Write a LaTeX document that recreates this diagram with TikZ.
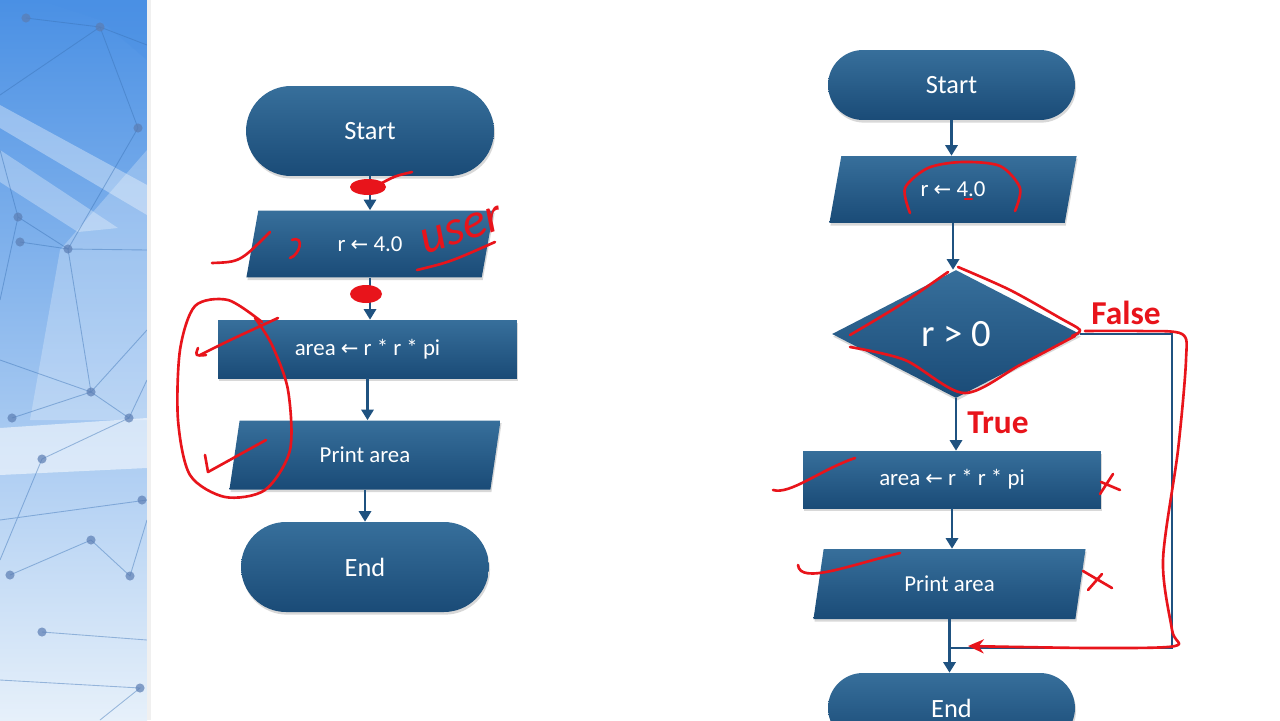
\documentclass[tikz,border=0pt]{standalone}
\usepackage{fontspec}
\setmainfont{Carlito}
\newfontfamily\arrowfont{DejaVu Sans}
\newcommand{\getsarrow}{{\arrowfont\fontsize{12}{14}\selectfont ←}}
\usepackage{tikz}
\usetikzlibrary{shapes.geometric,shapes.misc,arrows.meta,shadows}
\definecolor{boxtop}{HTML}{376F9B}
\definecolor{boxbot}{HTML}{1A4B77}
\definecolor{flowblue}{HTML}{1F5280}
\definecolor{inkred}{HTML}{E8141B}
\definecolor{stripdeep}{HTML}{4A90E4}
\definecolor{stripmid}{HTML}{A6CBF1}
\definecolor{stripfade}{HTML}{E6F0FA}
\definecolor{dotc}{HTML}{5B7DB3}

\begin{document}
\begin{tikzpicture}[x=0.02cm,y=-0.02cm,
  box/.style={top color=boxtop, bottom color=boxbot, text=white, inner sep=0pt,
    font=\fontsize{13}{15}\selectfont,
    drop shadow={opacity=0.3,shadow xshift=0.6pt,shadow yshift=-1.5pt}},
  term/.style={box, rounded rectangle, minimum width=4.96cm, minimum height=1.8cm,
    font=\fontsize{15}{17}\selectfont},
  io/.style={box, trapezium, trapezium stretches=true, trapezium left angle=77,
    trapezium right angle=103, minimum width=4.96cm, minimum height=1.34cm},
  proc/.style={box, rectangle, minimum width=5.98cm, minimum height=1.16cm},
  test/.style={box, diamond, minimum width=4.96cm, minimum height=2.56cm,
    font=\fontsize{22}{24}\selectfont},
  flow/.style={draw=flowblue, line width=1.3pt, -{Triangle[width=7pt,length=6pt]}},
  wire/.style={draw=flowblue, line width=1.3pt},
  lbl/.style={text=inkred, font=\fontsize{19}{22}\selectfont\bfseries},
  ink/.style={draw=inkred, line width=1.5pt, line cap=round, line join=round},
  stripline/.style={draw=stripdeep!80!black, opacity=0.45, line width=0.5pt}]

\clip (0,0) rectangle (1280,720);
\fill [white] (0,0) rectangle (1280,720);

\shade [top color=stripdeep, middle color=stripmid, bottom color=stripfade] (0,0) rectangle (147,720);
\fill [white, opacity=0.35] (0,105) -- (147,185) -- (147,215) -- (0,128) -- cycle;
\fill [white, opacity=0.3] (0,150) -- (118,228) -- (78,232) -- (0,182) -- cycle;
\fill [white, opacity=0.25] (147,150) -- (60,250) -- (30,420) -- (147,420) -- cycle;
\fill [white, opacity=0.55] (0,428) -- (147,418) -- (147,468) -- (0,475) -- cycle;
\fill [stripdeep, opacity=0.35] (40,0) -- (147,0) -- (147,60) -- (100,20) -- cycle;
\draw [stripline] (0,95) -- (100,27) -- (147,45);
\draw [stripline] (26,18) -- (100,27) -- (138,128) -- (68,249) -- (20,242);
\draw [stripline] (0,150) -- (18,217) -- (68,249) -- (147,250);
\draw [stripline] (18,217) -- (0,300) (68,249) -- (91,392) -- (147,330);
\draw [stripline] (12,418) -- (91,392) -- (129,418) -- (147,380);
\draw [stripline] (0,360) -- (91,392) (42,459) -- (129,418);
\draw [stripline] (0,520) -- (147,500) (42,459) -- (0,560);
\draw [stripline] (91,540) -- (130,576) -- (147,520) (91,540) -- (10,575);
\draw [stripline] (0,680) -- (140,688) -- (100,720) (42,632) -- (147,640);
\foreach \px/\py in {26/18,100/27,138/128,18/217,20/242,68/249,91/392,12/418,129/418,42/459,142/500,91/540,10/575,130/576,42/632,140/688}
  \fill [dotc, opacity=0.7] (\px,\py) circle (2.6pt);
\fill [gray!12] (147,0) rectangle (151,720);

\node [term] (start1) at (370,131) {Start};
\node [io] (read1) at (370,244) {r \getsarrow{} 4.0};
\node [proc] (calc1) at (367.5,349) {area \getsarrow{} r * r * pi};
\node [io, minimum width=5.44cm, minimum height=1.38cm] (print1) at (365,455) {Print area};
\node [term] (end1) at (365,567) {End};

\draw [flow] (start1.south) -- (start1.south |- read1.north);
\draw [flow] (read1.south) -- (read1.south |- calc1.north);
\draw [flow] (calc1.south) -- (calc1.south |- print1.north);
\draw [flow] (print1.south) -- (print1.south |- end1.north);

\node [term, minimum width=4.94cm, minimum height=1.4cm] (start2) at (951.5,85) {Start};
\node [io] (read2) at (953,189.5) {r \getsarrow{} 4.0};
\node [test] (test2) at (956,334) {r > 0};
\node [proc, minimum width=5.96cm, minimum height=1.14cm] (calc2) at (952,479.5) {area \getsarrow{} r * r * pi};
\node [io, minimum width=5.46cm, minimum height=1.4cm] (print2) at (949.5,584) {Print area};
\node [term, minimum width=4.94cm, minimum height=1.4cm] (end2) at (951.5,708) {End};
\coordinate (turn2) at (1172,648);

\draw [flow] (start2.south) -- (start2.south |- read2.north);
\draw [flow] (read2.south) -- (read2.south |- test2.north);
\draw [flow] (test2.south) -- (test2.south |- calc2.north);
\draw [flow] (calc2.south) -- (calc2.south |- print2.north);
\draw [flow] (print2.south) -- (print2.south |- end2.north);
\draw [wire] (test2.east) -| (turn2) -- (print2.south |- turn2);

\node [lbl] (true2) at (998,423) {True};
\node [lbl] (false2) at (1126,313) {False};

\fill [inkred] (368,187) ellipse [x radius=18, y radius=8];
\draw [ink] (380,184) .. controls (395,176) .. (412,172);
\fill [inkred] (366,294) ellipse [x radius=16, y radius=9];
\draw [ink] (212,263) .. controls (240,262) .. (270,232);
\draw [ink] (292,240) .. controls (305,235) and (300,255) .. (290,258);
\node [rotate=18, text=inkred, font=\fontsize{28}{28}\selectfont\itshape] (note1) at (462,230) {user};
\draw [ink] (417,270) .. controls (450,262) .. (495,242);
\draw [ink] plot [smooth] coordinates {(262,322) (228,300) (195,306) (180,350) (178,420) (190,475) (225,497) (265,490) (290,450) (288,390) (272,345) (255,318)};
\draw [ink] (200,355) .. controls (230,340) .. (278,318);
\draw [ink] (198,348) .. controls (195,356) .. (206,355);
\draw [ink] (205,455) -- (208,472) -- (266,440);

\draw [ink] plot [smooth] coordinates {(910,213) (905,188) (928,168) (962,162) (1000,166) (1020,188) (1015,211)};
\draw [ink] (965,199) -- (972,199);
\draw [ink] plot [smooth] coordinates {(850,335) (900,305) (948,272)};
\draw [ink] plot [smooth] coordinates {(958,267) (1010,290) (1060,318) (1080,330) (1072,336)};
\draw [ink] plot [smooth] coordinates {(850,347) (905,360) (964,393) (1020,365) (1075,336)};
\draw [ink, -{Stealth[length=9pt,width=8pt]}] plot [smooth] coordinates {(1085,331) (1140,331) (1182,334) (1186,360) (1178,450) (1163,560) (1172,630) (1175,646) (1100,648) (1020,647) (968,646)};
\draw [ink] (773,490) .. controls (790,495) and (820,470) .. (855,458);
\draw [ink] (798,565) .. controls (800,585) and (850,565) .. (900,553);
\draw [ink] (1100,494) -- (1113,474) (1101,482) -- (1120,490);
\draw [ink] (1083,571) -- (1112,588) (1088,590) -- (1102,574);
\end{tikzpicture}
\end{document}
